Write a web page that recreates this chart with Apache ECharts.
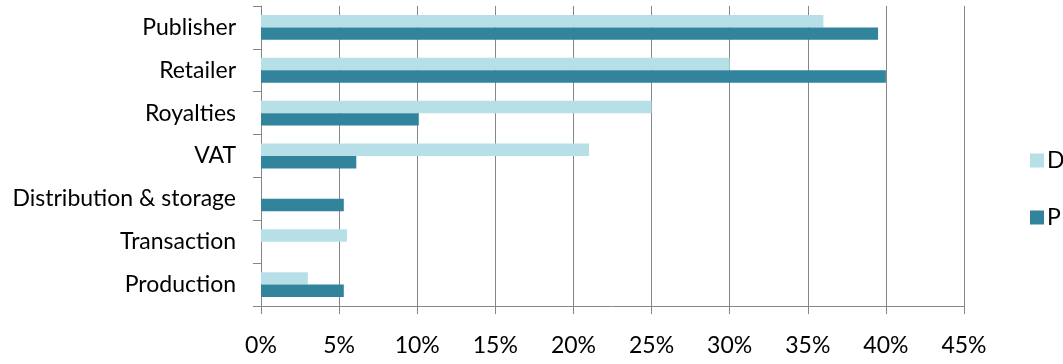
<!DOCTYPE html>
<html>
<head>
<meta charset="utf-8">
<script src="https://cdn.jsdelivr.net/npm/echarts@6/dist/echarts.min.js"></script>
<style>
  html, body { margin: 0; padding: 0; background: #fff; }
  #chart { width: 1063px; height: 364px; }
</style>
</head>
<body>
<div id="chart"></div>
<script>
// categories listed bottom to top (category y axis starts at the bottom)
const categories = ['Production', 'Transaction', 'Distribution & storage', 'VAT', 'Royalties', 'Retailer', 'Publisher'];
const seriesNames = ['D', 'P'];
const lightValues = [3, 5.5, 0, 21, 25, 30, 36];
const darkValues = [5.3, 0, 5.3, 6.1, 10.1, 40, 39.5];
const tickLabels = ['0%', '5%', '10%', '15%', '20%', '25%', '30%', '35%', '40%', '45%'];

const axisGray = '#868686';
const fontFamily = 'Lato, "Open Sans", sans-serif';

const chart = echarts.init(document.getElementById('chart'), null, { renderer: 'canvas' });

const option = {
  animation: false,
  backgroundColor: '#ffffff',
  grid: {
    left: 261,
    right: 99,
    top: 6,
    bottom: 58
  },
  legend: {
    orient: 'vertical',
    left: 1025,
    top: 144,
    itemWidth: 14,
    itemHeight: 14,
    itemGap: 34,
    icon: 'rect',
    textStyle: { fontFamily: fontFamily, fontSize: 23, color: '#000', padding: [0, 0, 0, -2] },
    data: seriesNames
  },
  xAxis: {
    type: 'value',
    min: 0,
    max: 45,
    interval: 5,
    axisLine: { show: true, lineStyle: { color: axisGray, width: 1 } },
    axisTick: { show: true, length: 8, lineStyle: { color: axisGray } },
    splitLine: { show: true, lineStyle: { color: axisGray, width: 1 } },
    axisLabel: {
      margin: 28,
      color: '#000',
      fontFamily: fontFamily,
      fontSize: 23,
      formatter: (v) => tickLabels[Math.round(v / 5)]
    }
  },
  yAxis: {
    type: 'category',
    data: categories,
    axisLine: { show: true, lineStyle: { color: axisGray, width: 1 } },
    axisTick: { show: true, length: 8, inside: false, lineStyle: { color: axisGray } },
    axisLabel: {
      margin: 25,
      color: '#000',
      fontFamily: fontFamily,
      fontSize: 23
    }
  },
  series: [
    {
      name: seriesNames[0],
      type: 'bar',
      data: lightValues,
      barCategoryGap: '42%',
      barGap: '0%',
      itemStyle: { color: '#B7DFE7' }
    },
    {
      name: seriesNames[1],
      type: 'bar',
      data: darkValues,
      barCategoryGap: '42%',
      barGap: '0%',
      itemStyle: { color: '#31849B' }
    }
  ]
};

chart.setOption(option);
window.addEventListener('resize', () => chart.resize());
</script>
</body>
</html>
